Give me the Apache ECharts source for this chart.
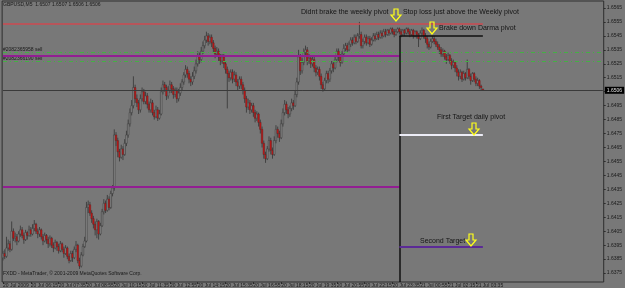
<!DOCTYPE html>
<html><head><meta charset="utf-8">
<script src="https://cdn.jsdelivr.net/npm/echarts@6/dist/echarts.min.js"></script>
<style>html,body{margin:0;padding:0;background:#787878;}#c{width:625px;height:288px;}</style>
</head><body><div id="c"></div>
<script>
// GBPUSD M5 bars from 20 Jul 04:55
const opens = [1.6386,1.6389,1.6387,1.6393,1.6396,1.6392,1.6405,1.6400,1.6401,1.6398,
1.6403,1.6406,1.6402,1.6399,1.6404,1.6402,1.6406,1.6403,1.6407,1.6410,
1.6405,1.6403,1.6406,1.6401,1.6398,1.6402,1.6399,1.6396,1.6400,1.6395,
1.6393,1.6397,1.6394,1.6391,1.6396,1.6392,1.6389,1.6393,1.6387,1.6384,
1.6389,1.6386,1.6392,1.6395,1.6384,1.6380,1.6388,1.6394,1.6398,1.6422,
1.6424,1.6418,1.6414,1.6410,1.6406,1.6412,1.6403,1.6409,1.6419,1.6425,
1.6420,1.6428,1.6422,1.6432,1.6436,1.6474,1.6470,1.6462,1.6458,1.6464,
1.6460,1.6468,1.6474,1.6482,1.6490,1.6495,1.6508,1.6500,1.6497,1.6492,
1.6500,1.6505,1.6498,1.6502,1.6496,1.6492,1.6497,1.6490,1.6487,1.6492,
1.6486,1.6489,1.6505,1.6510,1.6508,1.6502,1.6506,1.6510,1.6507,1.6503,
1.6506,1.6500,1.6504,1.6508,1.6512,1.6517,1.6521,1.6518,1.6514,1.6512,
1.6516,1.6520,1.6525,1.6531,1.6528,1.6534,1.6538,1.6542,1.6545,1.6541,
1.6544,1.6540,1.6536,1.6532,1.6534,1.6530,1.6527,1.6530,1.6525,1.6521,
1.6518,1.6515,1.6519,1.6514,1.6517,1.6512,1.6509,1.6514,1.6510,1.6506,
1.6500,1.6494,1.6497,1.6492,1.6495,1.6490,1.6486,1.6489,1.6483,1.6478,
1.6468,1.6460,1.6457,1.6464,1.6470,1.6463,1.6460,1.6470,1.6478,1.6475,
1.6472,1.6482,1.6490,1.6496,1.6492,1.6489,1.6493,1.6497,1.6495,1.6503,
1.6512,1.6530,1.6520,1.6526,1.6533,1.6535,1.6527,1.6529,1.6525,1.6528,
1.6522,1.6519,1.6521,1.6516,1.6510,1.6507,1.6513,1.6518,1.6514,1.6520,
1.6525,1.6522,1.6528,1.6534,1.6530,1.6526,1.6532,1.6536,1.6538,1.6535,
1.6539,1.6542,1.6540,1.6544,1.6541,1.6545,1.6546,1.6538,1.6541,1.6544,
1.6540,1.6543,1.6539,1.6542,1.6545,1.6543,1.6546,1.6544,1.6547,1.6545,
1.6548,1.6546,1.6549,1.6547,1.6550,1.6548,1.6546,1.6548,1.6550,1.6548,
1.6546,1.6549,1.6547,1.6550,1.6548,1.6546,1.6549,1.6545,1.6548,1.6546,
1.6543,1.6547,1.6549,1.6545,1.6543,1.6539,1.6537,1.6541,1.6543,1.6541,
1.6539,1.6537,1.6535,1.6532,1.6534,1.6530,1.6528,1.6531,1.6527,1.6524,
1.6526,1.6522,1.6519,1.6516,1.6519,1.6514,1.6518,1.6515,1.6521,1.6516,
1.6513,1.6518,1.6514,1.6511,1.6513,1.6509,1.6507];
const closes = [1.6389,1.6387,1.6393,1.6396,1.6392,1.6405,1.6400,1.6401,1.6398,1.6403,
1.6406,1.6402,1.6399,1.6404,1.6402,1.6406,1.6403,1.6407,1.6410,1.6405,
1.6403,1.6406,1.6401,1.6398,1.6402,1.6399,1.6396,1.6400,1.6395,1.6393,
1.6397,1.6394,1.6391,1.6396,1.6392,1.6389,1.6393,1.6387,1.6384,1.6389,
1.6386,1.6392,1.6395,1.6384,1.6380,1.6388,1.6394,1.6398,1.6422,1.6424,
1.6418,1.6414,1.6410,1.6406,1.6412,1.6403,1.6409,1.6419,1.6425,1.6420,
1.6428,1.6422,1.6432,1.6436,1.6474,1.6470,1.6462,1.6458,1.6464,1.6460,
1.6468,1.6474,1.6482,1.6490,1.6495,1.6508,1.6500,1.6497,1.6492,1.6500,
1.6505,1.6498,1.6502,1.6496,1.6492,1.6497,1.6490,1.6487,1.6492,1.6486,
1.6489,1.6505,1.6510,1.6508,1.6502,1.6506,1.6510,1.6507,1.6503,1.6506,
1.6500,1.6504,1.6508,1.6512,1.6517,1.6521,1.6518,1.6514,1.6512,1.6516,
1.6520,1.6525,1.6531,1.6528,1.6534,1.6538,1.6542,1.6545,1.6541,1.6544,
1.6540,1.6536,1.6532,1.6534,1.6530,1.6527,1.6530,1.6525,1.6521,1.6518,
1.6515,1.6519,1.6514,1.6517,1.6512,1.6509,1.6514,1.6510,1.6506,1.6500,
1.6494,1.6497,1.6492,1.6495,1.6490,1.6486,1.6489,1.6483,1.6478,1.6468,
1.6460,1.6457,1.6464,1.6470,1.6463,1.6460,1.6470,1.6478,1.6475,1.6472,
1.6482,1.6490,1.6496,1.6492,1.6489,1.6493,1.6497,1.6495,1.6503,1.6512,
1.6530,1.6520,1.6526,1.6533,1.6535,1.6527,1.6529,1.6525,1.6528,1.6522,
1.6519,1.6521,1.6516,1.6510,1.6507,1.6513,1.6518,1.6514,1.6520,1.6525,
1.6522,1.6528,1.6534,1.6530,1.6526,1.6532,1.6536,1.6538,1.6535,1.6539,
1.6542,1.6540,1.6544,1.6541,1.6545,1.6546,1.6538,1.6541,1.6544,1.6540,
1.6543,1.6539,1.6542,1.6545,1.6543,1.6546,1.6544,1.6547,1.6545,1.6548,
1.6546,1.6549,1.6547,1.6550,1.6548,1.6546,1.6548,1.6550,1.6548,1.6546,
1.6549,1.6547,1.6550,1.6548,1.6546,1.6549,1.6545,1.6548,1.6546,1.6543,
1.6547,1.6549,1.6545,1.6543,1.6539,1.6537,1.6541,1.6543,1.6541,1.6539,
1.6537,1.6535,1.6532,1.6534,1.6530,1.6528,1.6531,1.6527,1.6524,1.6526,
1.6522,1.6519,1.6516,1.6519,1.6514,1.6518,1.6515,1.6521,1.6516,1.6513,
1.6518,1.6514,1.6511,1.6513,1.6509,1.6508,1.6506];
const lows = [1.6384,1.6385,1.6386,1.6391,1.6390,1.6391,1.6398,1.6397,1.6395,1.6397,
1.6401,1.6400,1.6396,1.6398,1.6399,1.6401,1.6401,1.6402,1.6405,1.6403,
1.6400,1.6401,1.6399,1.6395,1.6397,1.6396,1.6393,1.6394,1.6393,1.6390,
1.6392,1.6391,1.6389,1.6390,1.6390,1.6386,1.6388,1.6385,1.6382,1.6383,
1.6383,1.6385,1.6390,1.6382,1.6378,1.6379,1.6387,1.6393,1.6397,1.6418,
1.6416,1.6411,1.6407,1.6402,1.6400,1.6399,1.6402,1.6408,1.6417,1.6418,
1.6419,1.6420,1.6421,1.6430,1.6434,1.6466,1.6458,1.6455,1.6457,1.6456,
1.6459,1.6466,1.6472,1.6480,1.6488,1.6493,1.6497,1.6494,1.6489,1.6490,
1.6498,1.6496,1.6496,1.6493,1.6490,1.6490,1.6488,1.6485,1.6486,1.6484,
1.6485,1.6488,1.6503,1.6505,1.6499,1.6500,1.6504,1.6504,1.6500,1.6501,
1.6497,1.6498,1.6502,1.6506,1.6510,1.6515,1.6515,1.6511,1.6509,1.6510,
1.6514,1.6518,1.6523,1.6525,1.6526,1.6532,1.6536,1.6540,1.6538,1.6539,
1.6537,1.6533,1.6529,1.6530,1.6527,1.6524,1.6525,1.6522,1.6518,1.6493,
1.6512,1.6513,1.6511,1.6512,1.6509,1.6506,1.6507,1.6507,1.6503,1.6497,
1.6490,1.6492,1.6489,1.6490,1.6487,1.6483,1.6484,1.6480,1.6475,1.6465,
1.6457,1.6454,1.6456,1.6462,1.6460,1.6457,1.6459,1.6468,1.6472,1.6469,
1.6471,1.6480,1.6488,1.6489,1.6486,1.6487,1.6491,1.6492,1.6494,1.6501,
1.6510,1.6517,1.6518,1.6524,1.6531,1.6524,1.6525,1.6522,1.6523,1.6519,
1.6516,1.6517,1.6513,1.6507,1.6505,1.6506,1.6511,1.6511,1.6512,1.6518,
1.6519,1.6521,1.6526,1.6527,1.6523,1.6525,1.6530,1.6534,1.6533,1.6534,
1.6537,1.6538,1.6539,1.6539,1.6540,1.6543,1.6536,1.6536,1.6539,1.6538,
1.6539,1.6537,1.6538,1.6541,1.6541,1.6542,1.6542,1.6543,1.6543,1.6544,
1.6544,1.6545,1.6545,1.6546,1.6546,1.6544,1.6545,1.6547,1.6546,1.6544,
1.6545,1.6545,1.6546,1.6546,1.6544,1.6545,1.6543,1.6544,1.6543,1.6537,
1.6542,1.6545,1.6543,1.6540,1.6536,1.6535,1.6536,1.6540,1.6539,1.6537,
1.6535,1.6532,1.6530,1.6530,1.6528,1.6525,1.6527,1.6525,1.6521,1.6522,
1.6519,1.6516,1.6513,1.6514,1.6512,1.6513,1.6513,1.6514,1.6514,1.6510,
1.6512,1.6512,1.6509,1.6509,1.6507,1.6506,1.6506];
const highs = [1.6391,1.6392,1.6401,1.6399,1.6398,1.6412,1.6407,1.6404,1.6403,1.6405,
1.6409,1.6408,1.6404,1.6406,1.6405,1.6409,1.6408,1.6410,1.6413,1.6411,
1.6407,1.6408,1.6407,1.6403,1.6404,1.6403,1.6401,1.6402,1.6401,1.6397,
1.6399,1.6398,1.6396,1.6398,1.6397,1.6394,1.6395,1.6394,1.6389,1.6391,
1.6391,1.6394,1.6398,1.6396,1.6386,1.6390,1.6396,1.6401,1.6426,1.6427,
1.6426,1.6420,1.6416,1.6412,1.6414,1.6413,1.6411,1.6421,1.6428,1.6427,
1.6431,1.6430,1.6434,1.6438,1.6478,1.6476,1.6472,1.6464,1.6467,1.6466,
1.6471,1.6477,1.6485,1.6493,1.6499,1.6516,1.6510,1.6503,1.6499,1.6503,
1.6508,1.6507,1.6505,1.6504,1.6498,1.6500,1.6499,1.6492,1.6495,1.6494,
1.6492,1.6508,1.6513,1.6512,1.6510,1.6509,1.6513,1.6512,1.6509,1.6508,
1.6508,1.6507,1.6511,1.6514,1.6519,1.6524,1.6523,1.6520,1.6516,1.6519,
1.6523,1.6528,1.6534,1.6533,1.6537,1.6541,1.6545,1.6548,1.6547,1.6546,
1.6546,1.6542,1.6538,1.6537,1.6536,1.6532,1.6532,1.6532,1.6527,1.6523,
1.6520,1.6521,1.6521,1.6520,1.6519,1.6514,1.6516,1.6516,1.6512,1.6508,
1.6502,1.6500,1.6499,1.6497,1.6497,1.6492,1.6491,1.6490,1.6485,1.6480,
1.6470,1.6462,1.6466,1.6473,1.6472,1.6465,1.6473,1.6481,1.6480,1.6477,
1.6485,1.6493,1.6499,1.6498,1.6494,1.6495,1.6500,1.6499,1.6506,1.6515,
1.6535,1.6532,1.6529,1.6536,1.6538,1.6537,1.6532,1.6531,1.6530,1.6530,
1.6524,1.6523,1.6523,1.6518,1.6512,1.6515,1.6520,1.6520,1.6522,1.6527,
1.6527,1.6531,1.6536,1.6536,1.6532,1.6534,1.6539,1.6540,1.6540,1.6541,
1.6544,1.6544,1.6546,1.6546,1.6547,1.6555,1.6548,1.6543,1.6546,1.6546,
1.6545,1.6545,1.6544,1.6547,1.6547,1.6548,1.6548,1.6549,1.6549,1.6550,
1.6550,1.6550,1.6550,1.6551,1.6551,1.6550,1.6550,1.6551,1.6551,1.6550,
1.6550,1.6550,1.6551,1.6551,1.6550,1.6550,1.6550,1.6549,1.6549,1.6547,
1.6549,1.6551,1.6550,1.6547,1.6545,1.6541,1.6543,1.6545,1.6545,1.6543,
1.6541,1.6539,1.6537,1.6536,1.6535,1.6532,1.6533,1.6532,1.6529,1.6528,
1.6527,1.6524,1.6521,1.6521,1.6520,1.6520,1.6519,1.6528,1.6522,1.6518,
1.6519,1.6519,1.6516,1.6515,1.6514,1.6510,1.6507];

const timeLabels = ["20 Jul 2009","20 Jul 06:15","20 Jul 07:35","20 Jul 08:55","20 Jul 10:15","20 Jul 11:35","20 Jul 12:55","20 Jul 14:15","20 Jul 15:35","20 Jul 16:55","20 Jul 18:15","20 Jul 19:35","20 Jul 20:55","20 Jul 22:15","20 Jul 23:35","21 Jul 00:55","21 Jul 02:15","21 Jul 03:35"];
const priceTicks = [1.6375,1.6385,1.6395,1.6405,1.6415,1.6425,1.6435,1.6445,1.6455,1.6465,1.6475,1.6485,1.6495,1.6505,1.6515,1.6525,1.6535,1.6545,1.6555,1.6565];

// levels drawn on the chart
const weeklyPivot = 1.6554;
const sellOrder1 = 1.6533, sellOrder2 = 1.6527;
const purpleUpper = 1.6531, purpleLower = 1.6437;
const darmaPivot = 1.6545;
const firstTarget = 1.6474;
const secondTarget = 1.6394;
const lastPrice = 1.6506;
const splitIndex = 228;

const totalSlots = 346;
const categories = [];
for (let i = 0; i < totalSlots; i++) {
  const m = 4*60 + 55 + i*5;
  const d = m >= 1440 ? 21 : 20;
  const mm = m % 1440;
  categories.push(d + ' Jul ' + String(Math.floor(mm/60)).padStart(2,'0') + ':' + String(mm%60).padStart(2,'0'));
}
const lastIndex = closes.length - 1;
const endSlot = totalSlots - 1;
const bars = opens.map((o, i) => [i, o, closes[i], lows[i], highs[i]]);

const yMin = 1.63686, yMax = 1.6570;
const FONT = '"Liberation Sans", Arial, sans-serif';

function seg(x0, x1, p, lineStyle, label) {
  const a = {coord: [x0, p], lineStyle: lineStyle};
  if (label) a.label = label;
  return [a, {coord: [x1, p]}];
}
const solid = (color, width) => ({color: color, width: width, type: 'solid'});
const dashDot = {color: '#44b044', width: 1, type: [4, 3, 1, 3]};

function renderCandle(params, api) {
  const i = api.value(0);
  const pO = api.coord([i, api.value(1)]);
  const pC = api.coord([i, api.value(2)]);
  const pL = api.coord([i, api.value(3)]);
  const pH = api.coord([i, api.value(4)]);
  const x = pO[0];
  const bear = api.value(2) < api.value(1);
  const top = Math.min(pO[1], pC[1]);
  const h = Math.max(Math.abs(pO[1] - pC[1]), 0.6);
  return {
    type: 'group',
    children: [
      {type: 'line', shape: {x1: x, y1: pH[1], x2: x, y2: pL[1]}, style: {stroke: '#424242', lineWidth: 1}},
      {type: 'rect', shape: {x: x - 0.8, y: top, width: 1.6, height: h},
        style: bear ? {fill: '#c31616', stroke: '#5a2020', lineWidth: 0.4} : {fill: '#8a8a8a', stroke: '#424242', lineWidth: 0.6}}
    ]
  };
}

const chart = echarts.init(document.getElementById('c'));
chart.setOption({
  animation: false,
  backgroundColor: '#787878',
  grid: {left: 1, right: 19, top: 1, bottom: 5, show: true, borderColor: '#2e2e2e', borderWidth: 1, backgroundColor: 'transparent'},
  xAxis: {
    type: 'category', data: categories, boundaryGap: true,
    axisLine: {show: false},
    axisTick: {show: true, alignWithLabel: true, length: 2, lineStyle: {color: '#2e2e2e'}, interval: (i) => i % 16 === 0 && i / 16 < timeLabels.length},
    axisLabel: {show: true, fontSize: 5, fontFamily: FONT, color: '#1a1a1a', margin: 1, align: 'left',
      interval: (i) => i % 16 === 0 && i / 16 < timeLabels.length,
      formatter: (v, i) => timeLabels[i / 16] || ''},
    splitLine: {show: false}
  },
  yAxis: {
    type: 'value', position: 'right', min: yMin, max: yMax,
    axisLine: {show: false},
    axisTick: {show: true, length: 2, customValues: priceTicks, lineStyle: {color: '#2e2e2e'}},
    axisLabel: {show: true, customValues: priceTicks, fontSize: 5, fontFamily: FONT, color: '#1a1a1a', margin: 3,
      formatter: (v) => v.toFixed(4)},
    splitLine: {show: false}
  },
  series: [{
    type: 'line', data: [], silent: true,
    markLine: {
      silent: true, symbol: ['none', 'none'], animation: false,
      label: {show: false},
      data: [
        seg(0, endSlot, sellOrder1, dashDot),
        seg(0, endSlot, sellOrder2, dashDot),
        seg(0, lastIndex, weeklyPivot, solid('#cc4a50', 1.5)),
        seg(0, splitIndex, purpleUpper, solid('#921e92', 2)),
        seg(0, splitIndex, purpleLower, solid('#921e92', 2)),
        seg(0, endSlot, lastPrice, solid('#3a3a3a', 1),
          {show: true, position: 'end', formatter: () => lastPrice.toFixed(4), backgroundColor: '#000', color: '#e0e0e0', fontSize: 5, fontFamily: FONT, padding: [1, 2], distance: 2}),
        seg(splitIndex, lastIndex, darmaPivot, solid('#111111', 1.5)),
        [{coord: [splitIndex, darmaPivot], lineStyle: solid('#111111', 1.5)}, {coord: [splitIndex, yMin]}],
        seg(splitIndex, lastIndex, firstTarget, solid('#ececf6', 2)),
        seg(splitIndex, lastIndex, secondTarget, solid('#5b2a96', 2))
      ]
    }
  }, {
    type: 'custom', data: bars, renderItem: renderCandle,
    encode: {x: 0, y: [1, 2, 3, 4]}, silent: true, z: 3
  }],
  graphic: [
    {type: 'text', left: 3, top: 2, style: {text: 'GBPUSD,M5  1.6507 1.6507 1.6506 1.6506', font: '5px ' + FONT, fill: '#1a1a1a'}},
    {type: 'text', left: 3, top: 47, style: {text: '#2082365958 sell', font: '5px ' + FONT, fill: '#1a1a1a'}},
    {type: 'text', left: 3, top: 56, style: {text: '#2082366190 sell', font: '5px ' + FONT, fill: '#1a1a1a'}},
    {type: 'text', left: 3, top: 271, style: {text: 'FXDD - MetaTrader, \u00a9 2001-2009 MetaQuotes Software Corp.', font: '5px ' + FONT, fill: '#1a1a1a'}},
    {type: 'text', left: 301, top: 9, style: {text: 'Didnt brake the weekly pivot', font: '7px ' + FONT, fill: '#151515'}},
    {type: 'text', left: 403, top: 9, style: {text: 'Stop loss just above the Weekly pivot', font: '7px ' + FONT, fill: '#151515'}},
    {type: 'text', left: 439, top: 25, style: {text: 'Brake down Darma pivot', font: '7px ' + FONT, fill: '#151515'}},
    {type: 'text', left: 437, top: 114, style: {text: 'First Target daily pivot', font: '7px ' + FONT, fill: '#151515'}},
    {type: 'text', left: 420, top: 238, style: {text: 'Second Target', font: '7px ' + FONT, fill: '#151515'}},
    ...[[396, 9], [432, 22], [474, 123], [471, 234]].map(([cx, t]) => ({
      type: 'polygon', z: 10, shape: {points: [[cx-2, t], [cx+2, t], [cx+2, t+6], [cx+5, t+6], [cx, t+12], [cx-5, t+6], [cx-2, t+6]]},
      style: {fill: 'none', stroke: '#ffff1a', lineWidth: 1.2}
    }))
  ]
});
</script></body></html>
